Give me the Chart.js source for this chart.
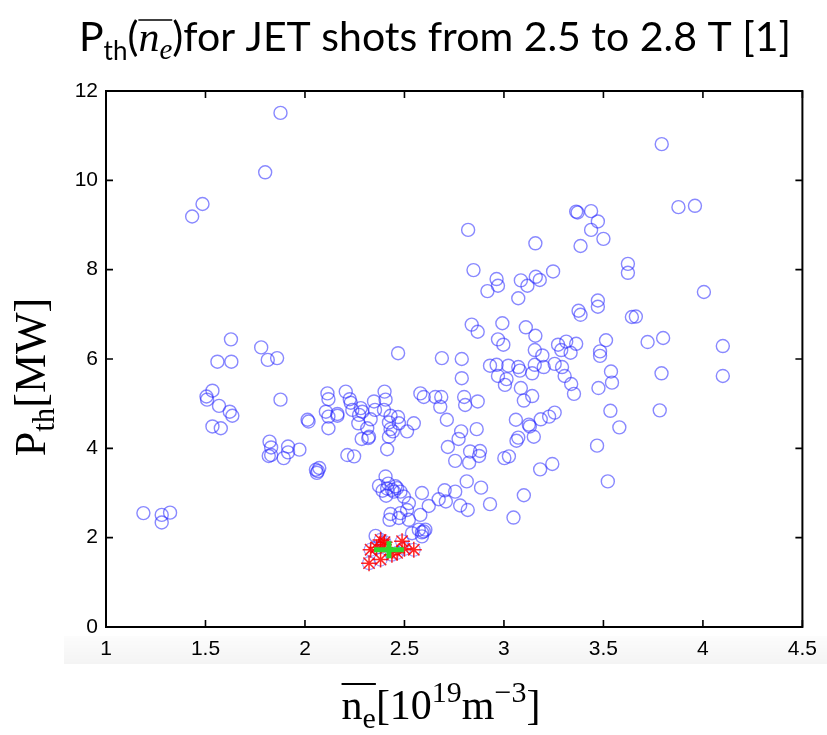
<!DOCTYPE html>
<html>
<head>
<meta charset="utf-8">
<script src="https://cdn.jsdelivr.net/npm/chart.js@4.4.1/dist/chart.umd.min.js"></script>
<style>
  html, body { margin: 0; padding: 0; background: #fff; }
  #wrap { width: 827px; height: 735px; position: relative; }
</style>
</head>
<body>
<div id="wrap"><canvas id="my-chart"></canvas></div>
<script>
// JET shots, line averaged density [1e19 m^-3] vs threshold power [MW]
const densityBlue = [
  1.877, 1.80, 1.485, 1.433, 1.628, 1.78, 2.468, 1.56, 1.63, 1.813,
  1.86, 1.505, 1.535, 1.508, 1.568, 1.622, 1.635, 1.535, 1.577, 1.877,
  1.822, 1.83, 1.818, 1.893, 1.915, 1.915, 1.972, 1.83, 2.013, 2.018,
  2.055, 2.06, 2.072, 2.065, 2.113, 2.118, 2.105, 2.118, 2.118, 2.163,
  2.163, 2.205, 2.225, 2.23, 2.238, 2.272, 2.288, 2.268, 2.28, 2.213,
  2.247, 2.285, 2.318, 2.322, 2.347, 2.352, 2.33, 2.313, 2.40, 2.405,
  2.397, 2.43, 2.468, 2.422, 2.43, 2.442, 2.422, 2.413, 2.472, 2.513,
  2.547, 2.58, 2.597, 2.655, 2.685, 2.68, 2.713, 2.718, 2.755, 2.372,
  2.405, 2.418, 2.408, 2.438, 2.463, 2.48, 2.497, 2.522, 2.447, 2.455,
  2.43, 2.48, 2.425, 2.472, 2.522, 2.58, 2.588, 2.622, 2.672, 2.702,
  2.708, 2.755, 2.538, 2.588, 2.605, 2.588, 2.355, 1.188, 1.28, 1.28,
  1.322, 2.513, 2.572, 2.597, 2.413, 2.39,
  3.793, 3.877, 3.96, 3.363, 3.37, 3.438, 3.472, 3.438, 3.50, 3.385,
  2.82, 3.158, 2.847, 3.623, 3.623, 3.247, 2.963, 2.97, 2.917, 3.085,
  3.118, 3.16, 3.18, 3.072, 4.005, 3.375, 3.385, 3.472, 3.472, 3.643,
  3.663, 2.838, 2.868, 2.992, 3.11, 3.158, 2.97, 2.997, 3.80, 3.722,
  4.10, 3.513, 3.272, 3.313, 3.288, 3.335, 3.363, 3.155, 3.193, 3.483,
  3.483, 2.688, 2.788, 2.788, 2.93, 2.963, 3.022, 3.072, 3.08, 2.97,
  3.013, 3.005, 3.155, 3.2, 3.142, 3.255, 3.292, 3.305, 3.338, 3.352,
  3.085, 3.10, 3.142, 3.538, 3.543, 3.475, 3.792, 4.10, 3.535, 3.783,
  3.58, 3.468, 3.522, 2.80, 2.805, 2.868, 2.785, 2.772, 2.863, 2.83,
  2.88, 2.875, 2.825, 2.813, 2.885, 2.78, 2.818, 2.93, 3.06, 3.125,
  3.13, 3.185, 3.227, 3.255, 3.072, 3.063, 3.15, 3.002, 3.025, 3.182,
  3.243, 3.10, 3.048
];
const powerBlue = [
  11.51, 10.18, 9.47, 9.19, 6.44, 6.26, 6.13, 5.94, 5.94, 5.98,
  6.02, 5.16, 5.29, 5.09, 4.95, 4.82, 4.73, 4.49, 4.45, 5.09,
  4.15, 4.02, 3.83, 3.78, 4.04, 3.91, 3.97, 3.85, 4.64, 4.60,
  3.52, 3.45, 3.56, 3.49, 5.23, 5.10, 4.82, 4.71, 4.45, 4.73,
  4.77, 5.27, 5.10, 5.02, 4.86, 4.75, 4.82, 4.56, 4.90, 3.85,
  3.82, 4.21, 4.23, 4.26, 5.05, 4.86, 4.65, 4.45, 5.27, 5.09,
  4.86, 4.73, 4.70, 4.58, 4.43, 4.38, 4.26, 3.98, 4.56, 4.38,
  4.56, 5.23, 5.15, 5.15, 5.15, 4.93, 4.64, 4.03, 3.72, 3.16,
  3.37, 3.21, 2.94, 3.07, 3.11, 3.03, 2.92, 2.77, 3.03, 3.15,
  2.53, 2.55, 2.40, 2.44, 2.40, 2.51, 3.00, 2.71, 2.86, 3.06,
  2.81, 3.03, 2.10, 2.12, 2.18, 2.03, 2.04, 2.55, 2.34, 2.51,
  2.56, 2.62, 2.18, 2.14, 3.10, 3.05,
  10.81, 9.40, 9.43, 9.30, 9.28, 9.31, 9.08, 8.89, 8.69, 8.53,
  8.89, 8.59, 7.99, 8.13, 7.93, 7.96, 7.79, 7.64, 7.52, 7.76,
  7.64, 7.84, 7.77, 7.36, 7.50, 7.08, 6.99, 7.31, 7.17, 6.94,
  6.95, 6.77, 6.61, 6.80, 6.71, 6.52, 6.44, 6.32, 6.47, 6.38,
  6.29, 6.42, 6.32, 6.39, 6.20, 6.14, 6.34, 6.20, 6.08, 6.17,
  6.07, 6.02, 6.00, 5.57, 5.85, 5.87, 5.85, 5.82, 5.74, 5.62,
  5.55, 5.42, 5.87, 5.82, 5.68, 5.89, 5.82, 5.62, 5.44, 5.22,
  5.35, 5.07, 5.17, 5.72, 5.47, 5.35, 5.68, 5.62, 4.84, 4.85,
  4.47, 4.06, 3.26, 5.15, 4.97, 5.05, 4.38, 4.21, 4.43, 3.93,
  3.94, 3.83, 3.68, 3.26, 3.12, 2.72, 2.62, 2.75, 4.64, 4.53,
  4.49, 4.65, 4.71, 4.80, 4.24, 4.17, 4.26, 3.78, 3.82, 3.53,
  3.65, 2.95, 2.45
];
// selected shots (red asterisks)
const densityRed = [2.38, 2.40, 2.33, 2.322, 2.38, 2.488, 2.463, 2.547, 2.397, 2.437, 2.50, 2.36];
const powerRed   = [1.95, 1.90, 1.73, 1.43, 1.51, 1.92, 1.66, 1.73, 1.84, 1.62, 1.75, 1.78];
// mean of selected shots with spread
const meanDensity = 2.422, spreadDensity = 0.075;
const meanPower = 1.73, spreadPower = 0.19;

const xTicks = [1, 1.5, 2, 2.5, 3, 3.5, 4, 4.5];
const yTicks = [0, 2, 4, 6, 8, 10, 12];

const SERIF = '"Liberation Serif", "DejaVu Serif", serif';
const SANS = 'Lato, "Liberation Sans", sans-serif';

function runsWidth(ctx, runs) {
  let w = 0;
  for (const r of runs) { ctx.font = r.f; w += ctx.measureText(r.t).width; }
  return w;
}
// draws a list of text runs left to right, returns extents of the barred runs
function drawRuns(ctx, runs, x, y) {
  let barStart = null, barEnd = null;
  for (const r of runs) {
    ctx.font = r.f;
    const w = ctx.measureText(r.t).width;
    ctx.fillText(r.t, x, y + (r.dy || 0));
    if (r.bar) { if (barStart === null) barStart = x; barEnd = x + w; }
    x += w;
  }
  return [barStart, barEnd];
}

const textPlugin = {
  id: 'texts',
  beforeDraw(chart) {
    const ctx = chart.ctx;
    ctx.save();
    // faint grey band behind the x tick labels (scan artefact in the original)
    const g = ctx.createLinearGradient(0, 636, 0, 664);
    g.addColorStop(0, 'rgba(0,0,0,0.01)');
    g.addColorStop(1, 'rgba(0,0,0,0.045)');
    ctx.fillStyle = g;
    ctx.fillRect(64, 636, 763, 28);
    ctx.restore();
  },
  afterDraw(chart) {
    const ctx = chart.ctx;
    const area = chart.chartArea;
    const xs = chart.scales.x, ys = chart.scales.y;
    ctx.save();
    // frame
    ctx.strokeStyle = '#000';
    ctx.lineWidth = 2;
    ctx.strokeRect(area.left, area.top, area.right - area.left, area.bottom - area.top);
    // inward ticks on all four sides
    ctx.lineWidth = 1.6;
    ctx.beginPath();
    for (const v of xTicks) {
      const px = xs.getPixelForValue(v);
      ctx.moveTo(px, area.bottom); ctx.lineTo(px, area.bottom - 7);
      ctx.moveTo(px, area.top); ctx.lineTo(px, area.top + 7);
    }
    for (const v of yTicks) {
      const py = ys.getPixelForValue(v);
      ctx.moveTo(area.left, py); ctx.lineTo(area.left + 7, py);
      ctx.moveTo(area.right, py); ctx.lineTo(area.right - 7, py);
    }
    ctx.stroke();

    ctx.fillStyle = '#000';
    ctx.textBaseline = 'alphabetic';
    ctx.textAlign = 'left';

    // title
    const title = [
      { t: 'P', f: '41px ' + SANS },
      { t: 'th', f: '26px ' + SANS, dy: 9 },
      { t: '(', f: '41px ' + SANS },
      { t: 'n', f: 'italic 42px ' + SERIF, bar: true },
      { t: 'e', f: 'italic 29px ' + SERIF, dy: 8, bar: true },
      { t: ')for JET shots from 2.5 to 2.8 T [1]', f: '41px ' + SANS }
    ];
    let w = runsWidth(ctx, title);
    let [b0, b1] = drawRuns(ctx, title, 435 - w / 2, 51);
    ctx.lineWidth = 1.6;
    ctx.beginPath(); ctx.moveTo(b0, 20); ctx.lineTo(b1, 20); ctx.stroke();

    // x axis title
    const xt = [
      { t: 'n', f: '42px ' + SERIF, bar: true },
      { t: 'e', f: '30px ' + SERIF, dy: 9, bar: true },
      { t: '[10', f: '42px ' + SERIF },
      { t: '19', f: '30px ' + SERIF, dy: -17 },
      { t: 'm', f: '42px ' + SERIF },
      { t: '\u22123', f: '30px ' + SERIF, dy: -17 },
      { t: ']', f: '42px ' + SERIF }
    ];
    w = runsWidth(ctx, xt);
    [b0, b1] = drawRuns(ctx, xt, 441 - w / 2, 719);
    ctx.lineWidth = 2;
    ctx.beginPath(); ctx.moveTo(b0, 684); ctx.lineTo(b1, 684); ctx.stroke();

    // y axis title (rotated)
    const yt = [
      { t: 'P', f: '44px ' + SERIF },
      { t: 'th', f: '31px ' + SERIF, dy: 9 },
      { t: '[MW]', f: '44px ' + SERIF }
    ];
    w = runsWidth(ctx, yt);
    ctx.translate(45, 377);
    ctx.rotate(-Math.PI / 2);
    drawRuns(ctx, yt, -w / 2, 0);
    ctx.restore();
  }
};

const blueData = densityBlue.map((n, i) => ({ x: n, y: powerBlue[i] }));
const redData = densityRed.map((n, i) => ({ x: n, y: powerRed[i] }));

const config = {
  type: 'scatter',
  data: {
    datasets: [
      {
        label: 'mean (horizontal)',
        type: 'line',
        data: [{ x: meanDensity - spreadDensity, y: meanPower }, { x: meanDensity + spreadDensity, y: meanPower }],
        borderColor: '#2fd82f', borderWidth: 5, pointRadius: 0, showLine: true, order: 0
      },
      {
        label: 'mean (vertical)',
        type: 'line',
        data: [{ x: meanDensity, y: meanPower - spreadPower }, { x: meanDensity, y: meanPower + spreadPower }],
        borderColor: '#2fd82f', borderWidth: 5, pointRadius: 0, showLine: true, order: 0
      },
      {
        label: 'selected',
        data: redData,
        pointStyle: 'star', pointRadius: 8, borderWidth: 1.5,
        borderColor: 'rgba(255,0,0,0.85)', backgroundColor: 'rgba(255,0,0,0.85)', order: 1
      },
      {
        label: 'selected (circles)',
        data: redData,
        pointStyle: 'circle', pointRadius: 6.5, borderWidth: 1.2,
        borderColor: 'rgba(40,40,255,0.45)', backgroundColor: 'rgba(0,0,0,0)', order: 2
      },
      {
        label: 'JET shots',
        data: blueData,
        pointStyle: 'circle', pointRadius: 6.5, borderWidth: 1.4,
        borderColor: 'rgba(40,40,255,0.55)', backgroundColor: 'rgba(0,0,0,0)', order: 3
      }
    ]
  },
  options: {
    responsive: true,
    maintainAspectRatio: false,
    animation: false,
    events: [],
    layout: { padding: { top: 91, right: 20, left: 0, bottom: 0 } },
    plugins: { legend: { display: false }, tooltip: { enabled: false }, title: { display: false } },
    scales: {
      x: {
        type: 'linear', min: 1, max: 4.5,
        afterBuildTicks: s => { s.ticks = xTicks.map(v => ({ value: v })); },
        afterFit: s => { s.height = 108; },
        grid: { display: false, drawTicks: false },
        border: { display: false },
        ticks: { color: '#000', padding: 10, maxRotation: 0, autoSkip: false,
                 font: { family: '"Liberation Sans", Arial, sans-serif', size: 21 },
                 callback: v => String(v) }
      },
      y: {
        type: 'linear', min: 0, max: 12,
        afterBuildTicks: s => { s.ticks = yTicks.map(v => ({ value: v })); },
        afterFit: s => { s.width = 106; },
        grid: { display: false, drawTicks: false },
        border: { display: false },
        ticks: { color: '#000', padding: 8, autoSkip: false,
                 font: { family: '"Liberation Sans", Arial, sans-serif', size: 21 },
                 callback: v => String(v) }
      }
    }
  },
  plugins: [textPlugin]
};

const myChart = new Chart(document.getElementById('my-chart'), config);
</script>
</body>
</html>
